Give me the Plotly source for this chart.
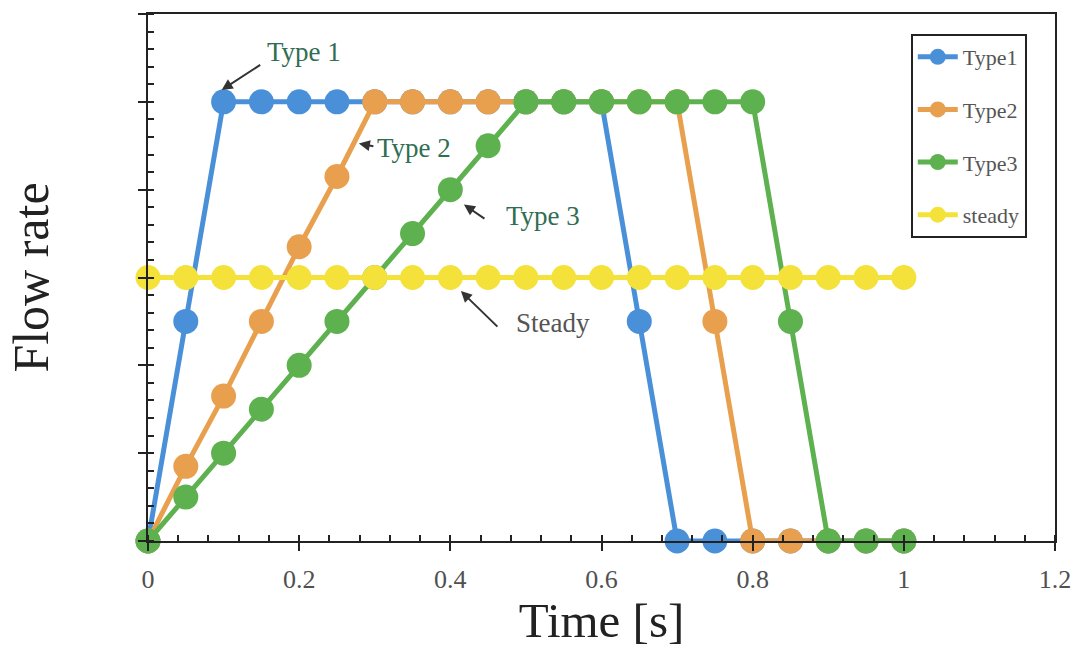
import plotly.graph_objects as go

# Time samples [s]
time_s = [0.0, 0.05, 0.1, 0.15, 0.2, 0.25, 0.3, 0.35, 0.4, 0.45, 0.5,
          0.55, 0.6, 0.65, 0.7, 0.75, 0.8, 0.85, 0.9, 0.95, 1.0]

# Normalised flow rate for each inflow profile
type1 = [0, 0.5, 1, 1, 1, 1, 1, 1, 1, 1, 1,
         1, 1, 0.5, 0, 0, 0, 0, 0, 0, 0]
type2 = [0, 0.17, 0.33, 0.5, 0.67, 0.83, 1, 1, 1, 1, 1,
         1, 1, 1, 1, 0.5, 0, 0, 0, 0, 0]
type3 = [0, 0.1, 0.2, 0.3, 0.4, 0.5, 0.6, 0.7, 0.8, 0.9, 1,
         1, 1, 1, 1, 1, 1, 0.5, 0, 0, 0]
steady = [0.6] * 21

x_ticks = [0, 0.2, 0.4, 0.6, 0.8, 1.0, 1.2]
x_tick_text = ["0", "0.2", "0.4", "0.6", "0.8", "1", "1.2"]

series = [
    ("Type1", type1, "#4a90d9"),
    ("Type2", type2, "#e9a04e"),
    ("Type3", type3, "#5db14f"),
    ("steady", steady, "#f4e23a"),
]

SERIF = "Liberation Serif, Times New Roman, serif"
AXIS_COLOR = "#222222"

fig = go.Figure()
for i, (name, values, color) in enumerate(series):
    fig.add_trace(go.Scatter(
        x=time_s, y=values, name=name, mode="lines+markers",
        line=dict(color=color, width=5),
        marker=dict(color=color, size=25),
        cliponaxis=False,
        legendgroup=f"g{i}",
    ))

axis_common = dict(
    range=[0, 1.2], showgrid=False, zeroline=False,
    showline=True, linecolor=AXIS_COLOR, linewidth=2, mirror=True,
    tickcolor=AXIS_COLOR, tickwidth=2, ticklen=8, ticks="outside",
    dtick=0.2, tick0=0,
    minor=dict(ticks="inside", ticklen=6, tickwidth=1.5,
               tickcolor=AXIS_COLOR, dtick=0.04, tick0=0, showgrid=False),
)

fig.update_layout(
    width=1083, height=648,
    margin=dict(l=148, r=24, t=12, b=107),
    paper_bgcolor="white", plot_bgcolor="white",
    font=dict(family=SERIF, color="#333333"),
    xaxis=dict(
        **axis_common,
        tickmode="array", tickvals=x_ticks, ticktext=x_tick_text,
        tickfont=dict(family=SERIF, size=26, color="#505050"),
        ticklabelstandoff=6,
        title=dict(text="Time [s]", font=dict(family=SERIF, size=49, color="#222222"),
                   standoff=2),
    ),
    yaxis=dict(
        **axis_common,
        showticklabels=False,
        title=dict(text="Flow rate", font=dict(family=SERIF, size=50, color="#222222"),
                   standoff=74),
    ),
    # Overlay axes supply the inward half of the crossing major ticks
    xaxis2=dict(range=[0, 1.2], overlaying="x", anchor="y", side="bottom",
                showgrid=False, zeroline=False, showline=False,
                showticklabels=False, ticks="inside", ticklen=8, tickwidth=2,
                tickcolor=AXIS_COLOR, dtick=0.2, tick0=0),
    yaxis2=dict(range=[0, 1.2], overlaying="y", anchor="x", side="left",
                showgrid=False, zeroline=False, showline=False,
                showticklabels=False, ticks="inside", ticklen=8, tickwidth=2,
                tickcolor=AXIS_COLOR, dtick=0.2, tick0=0),
    legend=dict(
        x=0.841, y=0.962, xanchor="left", yanchor="top",
        bgcolor="white", bordercolor="#222222", borderwidth=2,
        font=dict(family=SERIF, size=22, color="#555555"),
        traceorder="grouped", tracegroupgap=21, itemwidth=40,
    ),
    showlegend=True,
)

label_color = "#2f6e52"
arrow_color = "#333333"

# Curve labels
labels = [
    ("Type 1", 0.207, 1.113, label_color),
    ("Type 2", 0.352, 0.896, label_color),
    ("Type 3", 0.523, 0.739, label_color),
    ("Steady", 0.536, 0.497, "#555555"),
]
for text, lx, ly, col in labels:
    fig.add_annotation(x=lx, y=ly, text=text, showarrow=False,
                       font=dict(family=SERIF, size=27, color=col))

# Pointer arrows: (head x, head y, tail offset px)
arrows = [
    (0.0975, 1.027, 40, -26),
    (0.279, 0.905, 16, 3),
    (0.418, 0.766, 22, 15),
    (0.414, 0.569, 38, 37),
]
for hx, hy, ax, ay in arrows:
    fig.add_annotation(x=hx, y=hy, ax=ax, ay=ay, text="", showarrow=True,
                       arrowhead=2, arrowsize=1.1, arrowwidth=2,
                       arrowcolor=arrow_color)

fig.write_html("out.html")
